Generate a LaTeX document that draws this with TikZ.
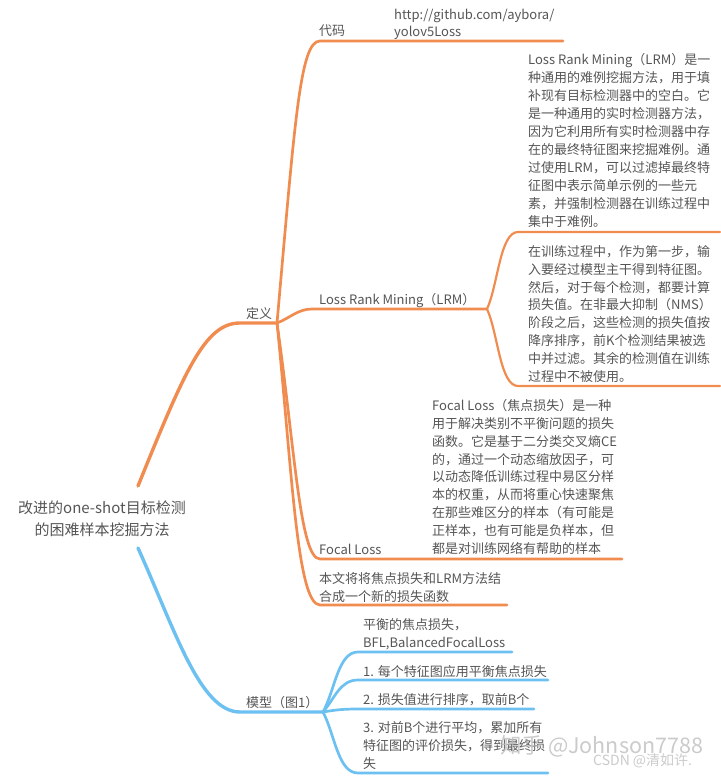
\documentclass[tikz,border=0pt]{standalone}
\usepackage{fontspec}
\setmainfont{Noto Sans CJK SC}
\definecolor{org}{HTML}{F08C50}
\definecolor{blu}{HTML}{6DC1F1}
\definecolor{tg}{HTML}{555555}
\begin{document}
\begin{tikzpicture}[x=1pt,y=-1pt,
  t/.style={font=\fontsize{13}{17.9}\selectfont,text=tg,inner sep=0pt,align=left,anchor=base west},
  roottxt/.style={font=\fontsize{15}{22}\selectfont,text=tg,inner sep=0pt,align=center,anchor=base},
  mo/.style={draw=org,line width=3.4pt,line cap=round},
  so/.style={draw=org,line width=2.7pt,line cap=round},
  to/.style={draw=org,line width=2.2pt,line cap=round},
  mb/.style={draw=blu,line width=3.4pt,line cap=round},
  sb/.style={draw=blu,line width=2.7pt,line cap=round},
  wm/.style={inner sep=0pt,anchor=base west,text=gray!55,opacity=0.75}
]
\useasboundingbox (0,0) rectangle (720,776);
% coordinates
\coordinate (rootO) at (138,486);
\coordinate (rootB) at (138,548);
\coordinate (defS) at (240,323);
\coordinate (defJ) at (277,323);
\coordinate (codeS) at (320,41);
\coordinate (codeE) at (563,41);
\coordinate (lrmS) at (312,309);
\coordinate (lrmJ) at (487,309);
\coordinate (lrmaS) at (518,232);
\coordinate (lrmaE) at (720,232);
\coordinate (lrmbS) at (518,386);
\coordinate (lrmbE) at (720,386);
\coordinate (focS) at (320,559);
\coordinate (focE) at (622,559);
\coordinate (benS) at (320,605);
\coordinate (benE) at (507,605);
\coordinate (modS) at (240,712);
\coordinate (modJ) at (323,712);
\coordinate (b1S) at (358,652);
\coordinate (b1E) at (512,652);
\coordinate (b2S) at (358,680);
\coordinate (b2E) at (548,680);
\coordinate (b3S) at (358,709);
\coordinate (b3E) at (534,709);
\coordinate (b4S) at (358,773);
\coordinate (b4E) at (548,773);

% orange main branch
\draw[mo] (rootO) .. controls (185,370) and (205,323) .. (defS) -- (defJ);
% definition children
\draw[so] (defJ) .. controls (295,120) and (300,41) .. (codeS) -- (codeE);
\draw[so] (defJ) .. controls (290,318) and (298,309) .. (lrmS) -- (lrmJ);
\draw[so] (defJ) .. controls (295,450) and (300,559) .. (focS) -- (focE);
\draw[so] (defJ) .. controls (292,470) and (297,605) .. (benS) -- (benE);
% LRM children
\draw[to] (lrmJ) .. controls (498,285) and (500,232) .. (lrmaS) -- (lrmaE);
\draw[to] (lrmJ) .. controls (498,333) and (500,386) .. (lrmbS) -- (lrmbE);
% blue branch
\draw[mb] (rootB) .. controls (175,630) and (200,712) .. (modS) -- (modJ);
\draw[sb] (modJ) .. controls (335,690) and (338,652) .. (b1S) -- (b1E);
\draw[sb] (modJ) .. controls (335,698) and (340,680) .. (b2S) -- (b2E);
\draw[sb] (modJ) .. controls (335,710) and (342,709) .. (b3S) -- (b3E);
\draw[sb] (modJ) .. controls (335,735) and (338,773) .. (b4S) -- (b4E);

% texts (anchor base = baseline of the last line)
\node[roottxt] (root) at (102,535) {改进的one-shot目标检测\\的困难样本挖掘方法};
\node[t] (def) at (246,318) {定义};
\node[t] (code) at (319,36) {代码};
\node[t] (url) at (394,37) {http://github.com/aybora/\\yolov5Loss};
\node[t] (lrm) at (319,304) {Loss Rank Mining（LRM）};
\node[t] (lrma) at (528,226) {Loss Rank Mining（LRM）是一\\种通用的难例挖掘方法，用于填\\补现有目标检测器中的空白。它\\是一种通用的实时检测器方法，\\因为它利用所有实时检测器中存\\在的最终特征图来挖掘难例。通\\过使用LRM，可以过滤掉最终特\\征图中表示简单示例的一些元\\素，并强制检测器在训练过程中\\集中于难例。};
\node[t] (lrmb) at (528,381.5) {在训练过程中，作为第一步，输\\入要经过模型主干得到特征图。\\然后，对于每个检测，都要计算\\损失值。在非最大抑制（NMS）\\阶段之后，这些检测的损失值按\\降序排序，前K个检测结果被选\\中并过滤。其余的检测值在训练\\过程中不被使用。};
\node[t] (foc) at (319,554) {Focal Loss};
\node[t] (foct) at (432,553.5) {Focal Loss（焦点损失）是一种\\用于解决类别不平衡问题的损失\\函数。它是基于二分类交叉熵CE\\的，通过一个动态缩放因子，可\\以动态降低训练过程中易区分样\\本的权重，从而将重心快速聚焦\\在那些难区分的样本（有可能是\\正样本，也有可能是负样本，但\\都是对训练网络有帮助的样本};
\node[t] (ben) at (319,601) {本文将将焦点损失和LRM方法结\\合成一个新的损失函数};
\node[t] (mod) at (246,707) {模型（图1）};
\node[t] (b1) at (363,647.5) {平衡的焦点损失，\\BFL,BalancedFocalLoss};
\node[t] (b2) at (363,676) {1. 每个特征图应用平衡焦点损失};
\node[t] (b3) at (363,704) {2. 损失值进行排序，取前B个};
\node[t] (b4) at (363,768.5) {3. 对前B个进行平均，累加所有\\特征图的评价损失，得到最终损\\失};
% watermarks
\node[wm,font=\fontsize{21.5}{21.5}\selectfont] (wm1) at (500,753) {知乎 @Johnson7788};
\node[wm,font=\fontsize{14}{14}\selectfont] (wm2) at (593,765) {CSDN @清如许.};
\end{tikzpicture}
\end{document}
